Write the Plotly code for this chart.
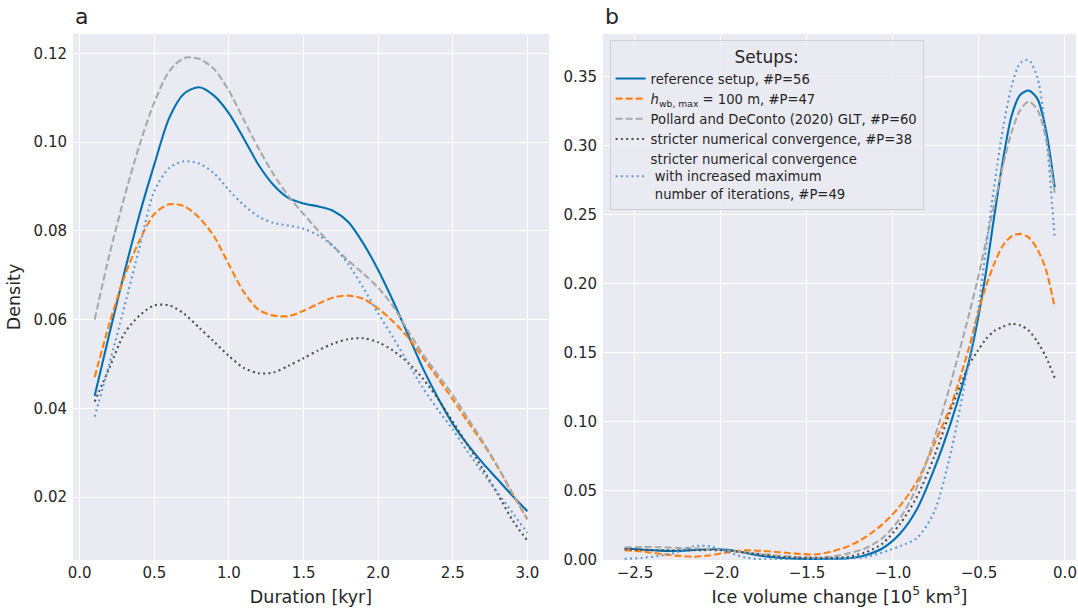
import plotly.graph_objects as go

# ---------------- data: panel a (duration) ----------------
duration = [0.1, 0.2, 0.3, 0.4, 0.5, 0.6, 0.7, 0.8, 0.9, 1.0,
            1.1, 1.2, 1.3, 1.4, 1.5, 1.6, 1.7, 1.8, 1.9, 2.0,
            2.1, 2.2, 2.3, 2.4, 2.5, 2.6, 2.7, 2.8, 2.9, 3.0]
dur_reference = [0.0428, 0.0570, 0.0707, 0.0836, 0.0950, 0.1055, 0.1110, 0.1124, 0.1105, 0.1065,
                 0.1008, 0.0948, 0.0903, 0.0874, 0.0862, 0.0855, 0.0845, 0.0820, 0.0772, 0.0712,
                 0.0642, 0.0566, 0.0490, 0.0424, 0.0365, 0.0318, 0.0277, 0.0240, 0.0203, 0.0168]
dur_hwb = [0.0470, 0.0592, 0.0697, 0.0778, 0.0838, 0.0860, 0.0856, 0.0830, 0.0788, 0.0724,
           0.0662, 0.0622, 0.0609, 0.0608, 0.0620, 0.0636, 0.0650, 0.0654, 0.0647, 0.0625,
           0.0596, 0.0560, 0.0514, 0.0468, 0.0420, 0.0370, 0.0322, 0.0268, 0.0208, 0.0150]
dur_pollard = [0.0600, 0.0748, 0.0877, 0.0993, 0.1090, 0.1160, 0.1190, 0.1188, 0.1165, 0.1116,
               0.1050, 0.0985, 0.0927, 0.0878, 0.0838, 0.0800, 0.0765, 0.0733, 0.0704, 0.0672,
               0.0630, 0.0575, 0.0522, 0.0476, 0.0430, 0.0378, 0.0326, 0.0270, 0.0208, 0.0150]
dur_strict = [0.0415, 0.0492, 0.0569, 0.0609, 0.0632, 0.0632, 0.0613, 0.0582, 0.0550, 0.0518,
              0.0491, 0.0479, 0.0481, 0.0496, 0.0513, 0.0531, 0.0546, 0.0556, 0.0558, 0.0549,
              0.0530, 0.0503, 0.0467, 0.0422, 0.0370, 0.0317, 0.0264, 0.0207, 0.0148, 0.0102]
dur_strict_iter = [0.0381, 0.0502, 0.0630, 0.0762, 0.0890, 0.0942, 0.0957, 0.0952, 0.0930, 0.0892,
                   0.0858, 0.0832, 0.0818, 0.0812, 0.0805, 0.0790, 0.0765, 0.0725, 0.0672, 0.0614,
                   0.0560, 0.0502, 0.0446, 0.0397, 0.0352, 0.0302, 0.0255, 0.0210, 0.0165, 0.0119]

# ---------------- data: panel b (ice volume change) ----------------
volume = [-2.56, -2.46, -2.36, -2.26, -2.16, -2.06, -1.96, -1.86, -1.76, -1.66,
          -1.56, -1.46, -1.36, -1.26, -1.16, -1.06, -0.96, -0.86, -0.76, -0.66,
          -0.56, -0.51, -0.46, -0.41, -0.36, -0.31, -0.26, -0.21, -0.16, -0.11, -0.06]
vol_reference = [0.0083, 0.0075, 0.0068, 0.0065, 0.0072, 0.0078, 0.0074, 0.0052, 0.0029, 0.0016,
                 0.0010, 0.0008, 0.0009, 0.0013, 0.0035, 0.0085, 0.0190, 0.0370, 0.0660, 0.1010,
                 0.1430, 0.1720, 0.2080, 0.2500, 0.2900, 0.3220, 0.3370, 0.3400, 0.3340, 0.3110, 0.2700]
vol_hwb = [0.0071, 0.0062, 0.0045, 0.0032, 0.0024, 0.0035, 0.0055, 0.0070, 0.0066, 0.0056,
           0.0046, 0.0040, 0.0060, 0.0100, 0.0165, 0.0260, 0.0390, 0.0570, 0.0840, 0.1130,
           0.1530, 0.1770, 0.1980, 0.2150, 0.2280, 0.2345, 0.2362, 0.2335, 0.2250, 0.2100, 0.1830]
vol_pollard = [0.0090, 0.0094, 0.0092, 0.0088, 0.0085, 0.0078, 0.0068, 0.0056, 0.0043, 0.0031,
               0.0022, 0.0017, 0.0024, 0.0048, 0.0085, 0.0160, 0.0300, 0.0530, 0.0880, 0.1300,
               0.1770, 0.2020, 0.2300, 0.2580, 0.2860, 0.3100, 0.3260, 0.3320, 0.3260, 0.3050, 0.2660]
vol_strict = [0.0078, 0.0074, 0.0071, 0.0071, 0.0071, 0.0072, 0.0068, 0.0054, 0.0038, 0.0024,
              0.0017, 0.0015, 0.0016, 0.0024, 0.0055, 0.0120, 0.0260, 0.0460, 0.0750, 0.1100,
              0.1410, 0.1510, 0.1600, 0.1660, 0.1690, 0.1710, 0.1700, 0.1660, 0.1580, 0.1470, 0.1320]
vol_strict_iter = [0.0008, 0.0015, 0.0030, 0.0055, 0.0100, 0.0098, 0.0058, 0.0018, 0.0005, 0.0002,
                   0.0002, 0.0003, 0.0006, 0.0015, 0.0020, 0.0055, 0.0100, 0.0160, 0.0350, 0.0800,
                   0.1430, 0.1770, 0.2250, 0.2720, 0.3130, 0.3430, 0.3600, 0.3620, 0.3490, 0.3080, 0.2330]

series_names = [
    "reference setup, #P=56",
    "<i>h</i><sub>wb, max</sub> = 100 m, #P=47",
    "Pollard and DeConto (2020) GLT, #P=60",
    "stricter numerical convergence, #P=38",
    "stricter numerical convergence<br> with increased maximum<br> number of iterations, #P=49",
]
series_colors = ["#0072b2", "#ff7f0e", "#a9a9a9", "#4d4d4d", "#5b9bd5"]
series_dash = ["solid", "7px,3px", "7px,3px", "2px,3.3px", "2px,3.3px"]

dur_series = [dur_reference, dur_hwb, dur_pollard, dur_strict, dur_strict_iter]
vol_series = [vol_reference, vol_hwb, vol_pollard, vol_strict, vol_strict_iter]

TEXT = "#262626"
FONT = "DejaVu Sans"

fig = go.Figure()
for i in range(5):
    fig.add_trace(go.Scatter(
        x=duration, y=dur_series[i], mode="lines", name=series_names[i],
        line=dict(color=series_colors[i], width=2.1, dash=series_dash[i],
                  shape="spline", smoothing=0.8),
        showlegend=False, xaxis="x", yaxis="y"))
for i in range(5):
    fig.add_trace(go.Scatter(
        x=volume, y=vol_series[i], mode="lines", name=series_names[i],
        line=dict(color=series_colors[i], width=2.1, dash=series_dash[i],
                  shape="spline", smoothing=0.8),
        showlegend=True, xaxis="x2", yaxis="y2"))

axis_common = dict(showgrid=True, gridcolor="white", gridwidth=1, zeroline=False,
                   showline=False, ticks="", tickfont=dict(size=15, color=TEXT, family=FONT))

fig.update_layout(
    width=1078, height=608,
    margin=dict(l=73, r=2, t=34, b=48),
    paper_bgcolor="white", plot_bgcolor="#eaeaf2",
    font=dict(family=FONT, color=TEXT),
    xaxis=dict(domain=[0, 0.4746], range=[-0.045, 3.145], tickvals=[0, 0.5, 1, 1.5, 2, 2.5, 3],
               tickformat=".1f", ticklabelstandoff=2,
               title=dict(text="Duration [kyr]", font=dict(size=17.5), standoff=9),
               **axis_common),
    yaxis=dict(domain=[0, 1], range=[0.0058, 0.1244], tickvals=[0.02, 0.04, 0.06, 0.08, 0.10, 0.12],
               tickformat=".2f", ticklabelstandoff=5,
               title=dict(text="Density", font=dict(size=17.5), standoff=8),
               **axis_common),
    xaxis2=dict(domain=[0.5284, 1], range=[-2.686, 0.064], anchor="y2",
                tickvals=[-2.5, -2.0, -1.5, -1.0, -0.5, 0.0], tickformat=".1f", ticklabelstandoff=2,
                title=dict(text="Ice volume change [10<sup>5</sup> km<sup>3</sup>]", font=dict(size=17.5), standoff=9),
                **axis_common),
    yaxis2=dict(domain=[0, 1], range=[0, 0.381], anchor="x2",
                tickvals=[0, 0.05, 0.10, 0.15, 0.20, 0.25, 0.30, 0.35], tickformat=".2f",
                ticklabelstandoff=5,
                **axis_common),
    legend=dict(x=0.535, y=0.988, xanchor="left", yanchor="top",
                bgcolor="rgba(234,234,242,0.8)", bordercolor="#cfcfd6", borderwidth=1,
                font=dict(size=13.2, color=TEXT, family=FONT),
                title=dict(text="Setups:", side="top center", font=dict(size=17, color=TEXT)),
                itemwidth=30, tracegroupgap=0),
    annotations=[
        dict(text="a", xref="x domain", yref="y domain", x=0, y=1.005, xanchor="left",
             yanchor="bottom", showarrow=False, font=dict(size=22, color=TEXT)),
        dict(text="b", xref="x2 domain", yref="y2 domain", x=0, y=1.005, xanchor="left",
             yanchor="bottom", showarrow=False, font=dict(size=22, color=TEXT)),
    ],
)

fig.write_html("out.html")
